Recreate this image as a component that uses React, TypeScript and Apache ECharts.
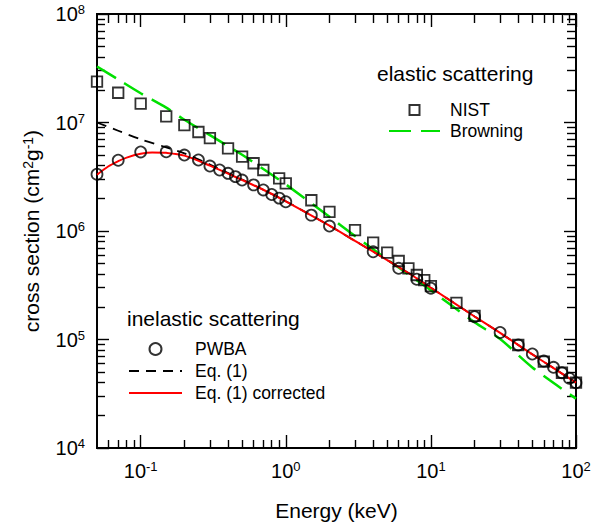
import React, { useEffect, useRef } from 'react';
import * as echarts from 'echarts';

const FONT = '"Liberation Sans", Arial, Helvetica, sans-serif';

// Axis ranges
const X_MIN = 0.05;
const X_MAX = 100;
const Y_MIN = 1e4;
const Y_MAX = 1e8;

// Tick definitions
const xMajorTicks = [0.1, 1, 10, 100];
const yMajorTicks = [1e4, 1e5, 1e6, 1e7, 1e8];
const minorMultipliers = [2, 3, 4, 5, 6, 7, 8, 9];
const xDecades = [0.01, 0.1, 1, 10];
const yDecades = [1e4, 1e5, 1e6, 1e7];

// Elastic scattering: NIST (squares)
const nistEnergy = [0.05, 0.07, 0.1, 0.15, 0.2, 0.25, 0.3, 0.4, 0.5, 0.6, 0.7, 0.9, 1, 1.5, 2, 3, 4, 5, 6, 7, 8, 9, 10, 15, 20, 40, 60, 80, 100];
const nistSigma = [2.38e7, 1.88e7, 1.49e7, 1.14e7, 9.45e6, 8.17e6, 7.19e6, 5.78e6, 4.84e6, 4.21e6, 3.65e6, 3.06e6, 2.75e6, 1.92e6, 1.5e6, 1.02e6, 7.8e5, 6.31e5, 5.29e5, 4.53e5, 3.93e5, 3.53e5, 3.11e5, 2.18e5, 1.65e5, 8.9e4, 6.24e4, 4.94e4, 4.0e4];

// Elastic scattering: Browning (green dashed)
const browningEnergy = [0.05, 0.07, 0.1, 0.15, 0.2, 0.3, 0.5, 0.7, 1, 2, 3, 5, 10, 20, 30, 50, 100];
const browningSigma = [3.28e7, 2.49e7, 1.86e7, 1.37e7, 1.06e7, 7.64e6, 5.04e6, 3.73e6, 2.69e6, 1.35e6, 8.98e5, 5.47e5, 2.84e5, 1.44e5, 1.01e5, 5.53e4, 2.85e4];

// Inelastic scattering: PWBA (circles)
const pwbaEnergy = [0.05, 0.07, 0.1, 0.15, 0.2, 0.25, 0.3, 0.35, 0.4, 0.45, 0.5, 0.6, 0.7, 0.8, 0.9, 1, 1.5, 2, 4, 6, 8, 10, 20, 30, 40, 50, 60, 70, 80, 90, 100];
const pwbaSigma = [3.34e6, 4.49e6, 5.35e6, 5.37e6, 5.01e6, 4.51e6, 3.97e6, 3.65e6, 3.4e6, 3.17e6, 2.95e6, 2.66e6, 2.39e6, 2.17e6, 2.01e6, 1.86e6, 1.4e6, 1.11e6, 6.44e5, 4.53e5, 3.59e5, 2.97e5, 1.62e5, 1.16e5, 8.9e4, 7.35e4, 6.34e4, 5.54e4, 4.94e4, 4.39e4, 4.0e4];

// Inelastic scattering: Eq. (1) (black dashed)
const eq1Energy = [0.05, 0.07, 0.1, 0.15, 0.2, 0.3, 0.5, 0.7, 1, 2, 3, 5, 7, 10, 20, 30, 50, 70, 100];
const eq1Sigma = [1.0e7, 8.4e6, 7.0e6, 5.9e6, 5.2e6, 4.1e6, 2.98e6, 2.4e6, 1.88e6, 1.12e6, 8.1e5, 5.4e5, 4.1e5, 3.0e5, 1.63e5, 1.15e5, 7.3e4, 5.45e4, 4.0e4];

// Inelastic scattering: Eq. (1) corrected (red)
const eq1cEnergy = [0.05, 0.06, 0.07, 0.08, 0.1, 0.12, 0.15, 0.2, 0.3, 0.5, 0.7, 1, 2, 3, 5, 7, 10, 20, 30, 50, 70, 100];
const eq1cSigma = [3.3e6, 3.95e6, 4.4e6, 4.75e6, 5.15e6, 5.3e6, 5.25e6, 4.95e6, 4.0e6, 2.95e6, 2.4e6, 1.88e6, 1.12e6, 8.1e5, 5.4e5, 4.1e5, 3.0e5, 1.63e5, 1.15e5, 7.3e4, 5.45e4, 4.0e4];

const pairs = (xs: number[], ys: number[]) => xs.map((x, i) => [x, ys[i]]);

const minorOf = (decades: number[], lo: number, hi: number) => {
  const out: number[] = [];
  decades.forEach((d) => minorMultipliers.forEach((m) => {
    const v = d * m;
    if (v > lo && v < hi) out.push(v);
  }));
  return out;
};

const xMinorTicks = minorOf(xDecades, X_MIN, X_MAX);
const yMinorTicks = minorOf(yDecades, Y_MIN, Y_MAX);

const supFormatter = (v: number) => `10{sup|${Math.round(v)}}`;

const AXIS_COLOR = '#000';
const SQUARE_ICON = 'path://M0,0L10,0L10,10L0,10Z';

function tickAxis(range: [number, number], majors: number[], position: string, ticks: number[], length: number, withLabels: boolean, extra: any = {}) {
  return {
    type: 'value',
    gridIndex: 0,
    position,
    min: Math.log10(range[0]),
    max: Math.log10(range[1]),
    axisLine: { show: true, onZero: false, lineStyle: { color: AXIS_COLOR, width: 1.8 } },
    axisTick: { show: true, inside: true, length, customValues: ticks.map((t) => Math.log10(t)), lineStyle: { color: AXIS_COLOR, width: 1.4 } },
    axisLabel: withLabels
      ? {
          show: true,
          customValues: majors.map((t) => Math.log10(t)),
          formatter: supFormatter,
          margin: 12,
          fontSize: 20,
          fontFamily: FONT,
          color: '#000',
          lineHeight: 22,
          rich: { sup: { fontSize: 13, fontFamily: FONT, color: '#000', verticalAlign: 'top', lineHeight: 13 } },
        }
      : { show: false },
    splitLine: { show: false },
    ...extra,
  };
}

const xr: [number, number] = [X_MIN, X_MAX];
const yr: [number, number] = [Y_MIN, Y_MAX];

export default function App() {
  const ref = useRef<HTMLDivElement>(null);

  useEffect(() => {
    document.body.style.margin = '0';
    if (!ref.current) return;
    const chart = echarts.init(ref.current, undefined, { renderer: 'svg' });

    const markerStyle = { color: 'rgba(0,0,0,0)', borderColor: '#000', borderWidth: 1.8 };
    const hiddenSymbol = { opacity: 0, color: 'rgba(0,0,0,0)', borderWidth: 0 };

    const option: any = {
      animation: false,
      backgroundColor: '#fff',
      grid: { left: 97, right: 30, top: 14, bottom: 80, containLabel: false },
      xAxis: [
        { type: 'log', logBase: 10, min: X_MIN, max: X_MAX, show: false, gridIndex: 0, splitLine: { show: false } },
        tickAxis(xr, xMajorTicks, 'bottom', xMajorTicks, 13, true, {
          name: 'Energy (keV)',
          nameLocation: 'middle',
          nameGap: 52,
          nameTextStyle: { fontSize: 21, fontFamily: FONT, color: '#000' },
        }),
        tickAxis(xr, xMajorTicks, 'bottom', xMinorTicks, 8, false),
        tickAxis(xr, xMajorTicks, 'top', xMajorTicks, 13, false),
        tickAxis(xr, xMajorTicks, 'top', xMinorTicks, 9, false),
      ],
      yAxis: [
        { type: 'log', logBase: 10, min: Y_MIN, max: Y_MAX, show: false, gridIndex: 0, splitLine: { show: false } },
        tickAxis(yr, yMajorTicks, 'left', yMajorTicks, 12, true, {
          name: 'cross section (cm{sup|2}g{sup|-1})',
          nameLocation: 'middle',
          nameRotate: 90,
          nameGap: 55,
          nameTextStyle: {
            fontSize: 21,
            fontFamily: FONT,
            color: '#000',
            rich: { sup: { fontSize: 14, fontFamily: FONT, color: '#000', verticalAlign: 'top', lineHeight: 14 } },
          },
        }),
        tickAxis(yr, yMajorTicks, 'left', yMinorTicks, 8, false),
        tickAxis(yr, yMajorTicks, 'right', yMajorTicks, 12, false),
        tickAxis(yr, yMajorTicks, 'right', yMinorTicks, 9, false),
      ],
      legend: [
        {
          data: [
            { name: 'PWBA', icon: 'circle' },
            { name: 'Eq. (1)', itemStyle: hiddenSymbol },
            { name: 'Eq. (1) corrected', itemStyle: hiddenSymbol },
          ],
          orient: 'vertical',
          left: 128,
          top: 339,
          itemWidth: 53,
          itemHeight: 12,
          itemGap: 2,
          padding: 0,
          selectedMode: false,
          symbolKeepAspect: true,
          textStyle: { fontSize: 17.5, fontFamily: FONT, color: '#000', lineHeight: 20, padding: [0, 0, 0, 8] },
        },
        {
          data: [
            { name: 'NIST', icon: SQUARE_ICON },
            { name: 'Browning', itemStyle: hiddenSymbol },
          ],
          orient: 'vertical',
          left: 388,
          top: 100,
          itemWidth: 51,
          itemHeight: 10,
          itemGap: 1,
          padding: 0,
          selectedMode: false,
          symbolKeepAspect: true,
          textStyle: { fontSize: 17.5, fontFamily: FONT, color: '#000', lineHeight: 20, padding: [0, 0, 0, 5] },
        },
      ],
      graphic: [
        {
          type: 'text',
          x: 127,
          y: 318,
          style: { text: 'inelastic scattering', fontSize: 21, fontFamily: FONT, fill: '#000', align: 'left', verticalAlign: 'middle', textAlign: 'left', textVerticalAlign: 'middle' },
        },
        {
          type: 'text',
          x: 377,
          y: 73,
          style: { text: 'elastic scattering', fontSize: 21, fontFamily: FONT, fill: '#000', align: 'left', verticalAlign: 'middle', textAlign: 'left', textVerticalAlign: 'middle' },
        },
      ],
      series: [
        {
          name: 'Browning',
          type: 'line',
          data: pairs(browningEnergy, browningSigma),
          symbol: 'none',
          smooth: 0.3,
          lineStyle: { color: '#00e000', width: 2.5, type: [22, 10] },
          itemStyle: { color: '#00e000' },
          z: 2,
        },
        {
          name: 'Eq. (1)',
          type: 'line',
          data: pairs(eq1Energy, eq1Sigma),
          symbol: 'none',
          smooth: 0.3,
          lineStyle: { color: '#000', width: 1.8, type: [10, 7] },
          itemStyle: { color: '#000' },
          z: 3,
        },
        {
          name: 'Eq. (1) corrected',
          type: 'line',
          data: pairs(eq1cEnergy, eq1cSigma),
          symbol: 'none',
          smooth: 0.3,
          lineStyle: { color: '#ff0000', width: 2 },
          itemStyle: { color: '#ff0000' },
          z: 4,
        },
        {
          name: 'NIST',
          type: 'scatter',
          data: pairs(nistEnergy, nistSigma),
          symbol: 'rect',
          symbolSize: 10.5,
          itemStyle: markerStyle,
          z: 5,
        },
        {
          name: 'PWBA',
          type: 'scatter',
          data: pairs(pwbaEnergy, pwbaSigma),
          symbol: 'circle',
          symbolSize: 11,
          itemStyle: markerStyle,
          z: 5,
        },
      ],
    };

    chart.setOption(option);
    return () => chart.dispose();
  }, []);

  return <div ref={ref} style={{ width: 606, height: 528 }} />;
}
